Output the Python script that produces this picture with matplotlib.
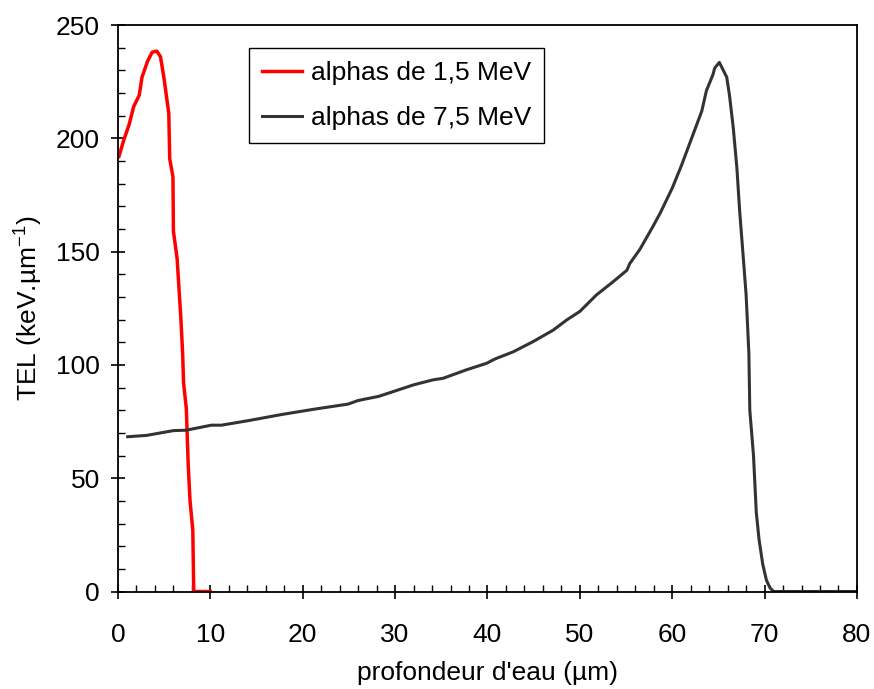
import numpy as np
import matplotlib
matplotlib.use('Agg')
import matplotlib.pyplot as plt
from matplotlib.ticker import MultipleLocator

plt.rcParams['font.family'] = ['Liberation Sans', 'DejaVu Sans']
plt.rcParams['mathtext.default'] = 'regular'
plt.rcParams['font.size'] = 19

# alphas 1,5 MeV
x_15 = [0.1, 0.65, 1.2, 1.7, 2.3, 2.6, 3.2, 3.7, 4.2, 4.6, 5.0, 5.3, 5.5, 5.6,
        5.95, 6.0, 6.4, 6.6, 6.8, 7.0, 7.1, 7.4, 7.6, 7.8, 8.1, 8.2, 10.0]
y_15 = [192, 199.5, 206, 214, 219, 227, 234, 238, 238.5, 236, 226, 217, 211, 191,
        183, 159, 147, 134, 121, 105, 92, 80.6, 56, 40, 27, 0, 0]

# alphas 7,5 MeV
x_75 = [1.05, 3.1, 6.0, 7.4, 10.1, 11.2, 14.1, 17.7, 21.3, 24.9, 26.0, 28.2, 30.0,
        32.0, 34.1, 35.2, 37.7, 39.9, 40.8, 42.8, 44.9, 47.1, 48.6, 50.0, 51.8,
        53.6, 55.1, 55.4, 56.5, 57.9, 58.7, 60.0, 61.0, 62.1, 63.2, 63.7, 64.4,
        64.6, 65.1, 65.9, 66.2, 66.6, 67.0, 67.3, 67.7, 68.0, 68.3, 68.4, 68.8,
        69.1, 69.4, 69.8, 70.2, 70.6, 71.0, 80.0]
y_75 = [68.3, 68.9, 71, 71.2, 73.4, 73.4, 75.4, 78.1, 80.5, 82.7, 84.3, 86.1, 88.5,
        91.2, 93.4, 94.1, 97.8, 100.7, 102.6, 105.8, 110.2, 115.3, 119.9, 123.6, 130.9,
        136.7, 141.8, 144.7, 151, 161, 167, 178, 188, 200, 212, 221, 228,
        231, 233.5, 227, 219, 205, 187, 168, 147, 131, 105, 80, 60,
        35, 23, 12, 5, 1.5, 0, 0]

f = plt.figure(figsize=(8.74, 6.89), dpi=100)
ax = f.add_axes([0.135, 0.1415, 0.8455, 0.8222])

ax.plot(x_15, y_15, color='#ff0000', lw=2.5, label='alphas de 1,5 MeV')
ax.plot(x_75, y_75, color='#333333', lw=2.2, label='alphas de 7,5 MeV')

ax.set_xlim(0, 80)
ax.set_ylim(0, 250)
ax.xaxis.set_major_locator(MultipleLocator(10))
ax.xaxis.set_minor_locator(MultipleLocator(2))
ax.yaxis.set_major_locator(MultipleLocator(50))
ax.yaxis.set_minor_locator(MultipleLocator(10))
ax.tick_params(which='major', direction='inout', length=10, width=1.2, pad=8)
ax.tick_params(axis='x', which='major', pad=18)
ax.tick_params(which='minor', direction='in', length=5, width=1.0)
for s in ax.spines.values():
    s.set_linewidth(1.3)

ax.set_xlabel("profondeur d'eau (µm)", labelpad=10)
ax.set_ylabel('TEL (keV.µm$^{-1}$)', labelpad=8)

leg = ax.legend(loc='upper left', bbox_to_anchor=(0.177, 0.959), borderaxespad=0,
                fancybox=False, edgecolor='black', framealpha=1,
                handlelength=1.5, handletextpad=0.35, labelspacing=0.78,
                borderpad=0.5)
leg.get_frame().set_linewidth(1.0)

f.savefig('out.png', dpi=100)
